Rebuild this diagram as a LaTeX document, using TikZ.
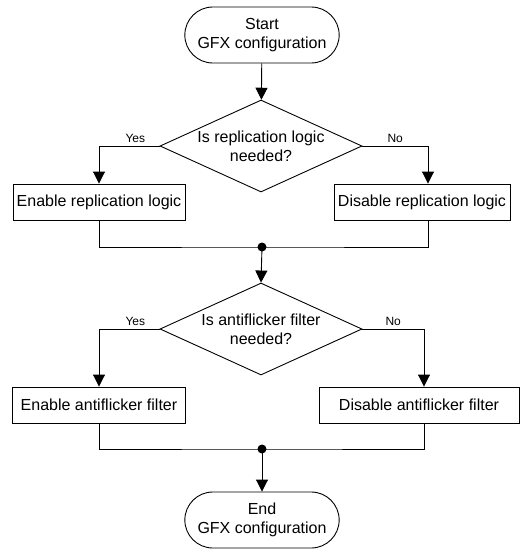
\documentclass[tikz,border=0pt]{standalone}
\usepackage{fontspec}
\setmainfont{Liberation Sans}
\usetikzlibrary{arrows.meta,shapes.geometric,shapes.misc}

\begin{document}
\begin{tikzpicture}[x=1pt,y=1pt,line width=0.9pt,
  term/.style={draw,rounded rectangle,minimum width=161pt,minimum height=56pt,align=center,font=\fontsize{16}{19}\selectfont},
  dec/.style={draw,diamond,aspect=2.2,inner sep=0pt,minimum width=202pt,minimum height=92pt,align=center,font=\fontsize{16}{19}\selectfont},
  box/.style={draw,minimum width=#1,minimum height=36pt,font=\fontsize{16}{19}\selectfont},
  box/.default=172pt,
  lbl/.style={font=\fontsize{12}{14}\selectfont,inner sep=3pt},
  arr/.style={-{Triangle[length=12pt,width=12pt]}}]
\useasboundingbox (0,0) rectangle (520,-552);
\node[term] (start) at (262,-35) {Start\\GFX configuration};
\node[dec] (dec1) at (261,-146) {Is replication logic\\needed?};
\node[box] (en1) at (99,-202) {Enable replication logic};
\node[box=176pt] (dis1) at (422,-202) {Disable replication logic};
\coordinate (j1) at (262,-247);
\node[dec] (dec2) at (261,-329) {Is antiflicker filter\\needed?};
\node[box=173pt] (en2) at (99,-405) {Enable antiflicker filter};
\node[box=200pt] (dis2) at (419,-405) {Disable antiflicker filter};
\coordinate (j2) at (262,-449);
\node[term] (stop) at (262,-520) {End\\GFX configuration};
% first decision
\draw[arr] (start) -- (dec1);
\draw[arr] (dec1.west) -| node[lbl,above,pos=0.2] {Yes} (en1.north);
\draw[arr] (dec1.east) -| node[lbl,above,pos=0.25] {No} ([xshift=6pt]dis1.north);
\draw (en1.south) |- (j1) -| ([xshift=6pt]dis1.south);
\fill (j1) circle (4.5pt);
\draw[arr] (j1) -- (dec2.north);
% second decision
\draw[arr] (dec2.west) -| node[lbl,above,pos=0.2] {Yes} (en2.north);
\draw[arr] (dec2.east) -| node[lbl,above,pos=0.25] {No} ([xshift=5pt]dis2.north);
\draw (en2.south) |- (j2) -| ([xshift=5pt]dis2.south);
\fill (j2) circle (4.5pt);
\draw[arr] (j2) -- (stop.north);
\end{tikzpicture}
\end{document}
